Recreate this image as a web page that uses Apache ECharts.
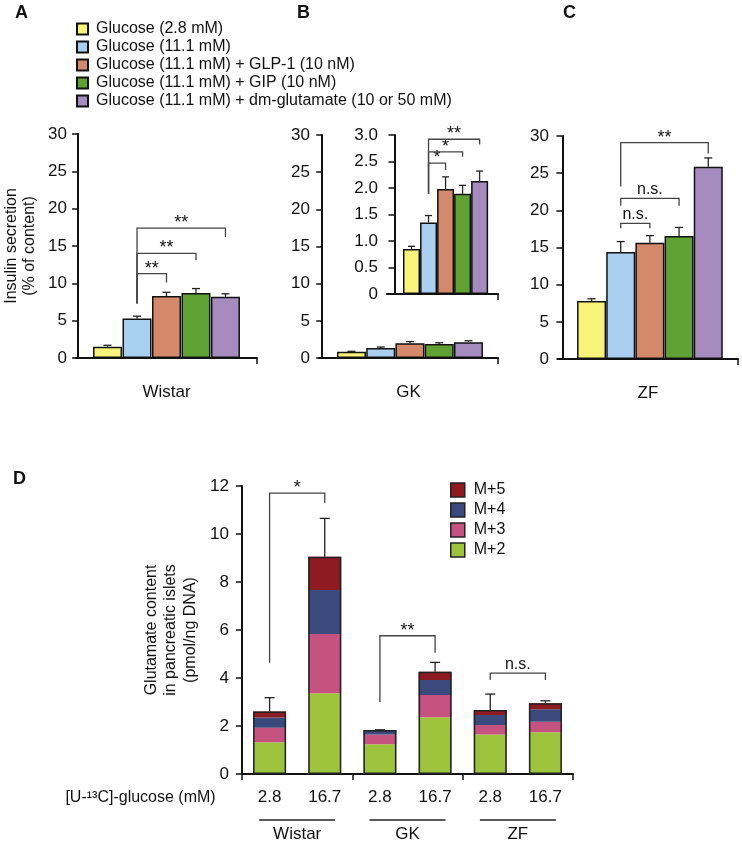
<!DOCTYPE html>
<html>
<head>
<meta charset="utf-8">
<script src="https://cdn.jsdelivr.net/npm/echarts@6/dist/echarts.min.js"></script>
<style>
  html, body { margin: 0; padding: 0; background: #fff; }
  #main { width: 742px; height: 845px; }
</style>
</head>
<body>
<div id="main"></div>
<script>
// panels A-C: insulin secretion (% of content)
const conditions = [
  'Glucose (2.8 mM)',
  'Glucose (11.1 mM)',
  'Glucose (11.1 mM) + GLP-1 (10 nM)',
  'Glucose (11.1 mM) + GIP (10 nM)',
  'Glucose (11.1 mM) + dm-glutamate (10 or 50 mM)'
];
const conditionColors = ['#f8f47a', '#a9cff1', '#d4896a', '#5fa132', '#a58bbe'];

const wistarMean = [1.5, 5.3, 8.3, 8.7, 8.2];
const wistarSem = [0.2, 0.3, 0.5, 0.6, 0.4];
const gkMean = [0.85, 1.35, 1.98, 1.89, 2.13];
const gkSem = [0.05, 0.13, 0.23, 0.16, 0.19];
const zfMean = [7.8, 14.4, 15.65, 16.55, 25.85];
const zfSem = [0.3, 1.4, 0.95, 1.15, 1.2];

// brackets: [from bar, to bar, top, left leg end, right leg end]
const wistarBrackets = [[2, 3, 11.3, 7.3, 10.1], [2, 4, 14.0, 7.3, 13.1], [2, 5, 17.4, 7.3, 16.2]];
const wistarMarks = ['**', '**', '**'];
const gkBrackets = [[2, 3, 2.47, 1.89, 2.34], [2, 4, 2.68, 1.89, 2.59], [2, 5, 2.92, 1.89, 2.82]];
const gkMarks = ['*', '*', '**'];
const zfBrackets = [[2, 3, 18.25, 17.6, 17.6], [2, 4, 21.6, 20.6, 20.6], [2, 5, 29.1, 23.2, 27.65]];
const zfMarks = ['n.s.', 'n.s.', '**'];

// panel D: glutamate content (pmol/ng DNA)
const strains = ['Wistar', 'GK', 'ZF'];
const doses = ['2.8', '16.7'];
const isotopologues = ['M+2', 'M+3', 'M+4', 'M+5'];
const isoColors = ['#9dc43c', '#c5527f', '#3b4a7c', '#8e1b22'];
const m2 = [1.32, 3.36, 1.24, 2.36, 1.65, 1.74];
const m3 = [0.61, 2.47, 0.41, 0.93, 0.39, 0.44];
const m4 = [0.42, 1.84, 0.15, 0.63, 0.42, 0.52];
const m5 = [0.25, 1.38, 0.03, 0.34, 0.21, 0.25];
const glutSem = [0.58, 1.6, 0.01, 0.39, 0.66, 0.1];
const glutBrackets = [[0, 1, 11.7, 4.64, 11.3], [2, 3, 5.76, 3.0, 5.05], [4, 5, 4.2, 3.92, 3.92]];
const glutMarks = ['*', '**', 'n.s.'];

const FONT = "'Liberation Sans', Arial, sans-serif";
const INK = '#111';

const chart = echarts.init(document.getElementById('main'));

const categories = [];
strains.forEach(s => doses.forEach(d => categories.push(s + ' ' + d)));
const totals = m2.map((v, i) => v + m3[i] + m4[i] + m5[i]);

function xVal(gridIndex, min, max, name) {
  return {
    type: 'value', gridIndex, min, max,
    axisLine: { show: true, onZero: false, lineStyle: { color: INK, width: 2 } },
    axisTick: { show: true, customValues: [max], length: 6, lineStyle: { color: INK, width: 1.5 } },
    axisLabel: { show: false },
    splitLine: { show: false },
    name: name || '', nameLocation: 'middle', nameGap: 26,
    nameTextStyle: { fontSize: 17, color: INK }
  };
}

function yVal(gridIndex, max, interval, opts) {
  opts = opts || {};
  return {
    type: 'value', gridIndex, min: 0, max, interval,
    axisLine: { show: true, lineStyle: { color: INK, width: 2 } },
    axisTick: { show: true, length: 6, lineStyle: { color: INK, width: 1.5 } },
    axisLabel: { fontSize: 17, color: INK, margin: opts.margin || 9, formatter: opts.fmt },
    splitLine: { show: false },
    name: opts.name || '', nameLocation: 'middle', nameRotate: 90, nameGap: opts.nameGap || 30,
    nameTextStyle: { fontSize: 16, color: INK, lineHeight: opts.lineHeight || 18 }
  };
}

function barSeries(axis, means, width) {
  return means.map((v, i) => ({
    type: 'bar', name: conditions[i], xAxisIndex: axis, yAxisIndex: axis,
    data: [[i + 1, v]], barWidth: width, barGap: '-100%',
    itemStyle: { color: conditionColors[i], borderColor: INK, borderWidth: 1.5 },
    z: 2
  }));
}

function errorSeries(xAxis, yAxis, data, cap) {
  return {
    type: 'custom', xAxisIndex: xAxis, yAxisIndex: yAxis, data, z: 4, silent: true,
    renderItem(params, api) {
      const x = api.value(0), m = api.value(1), e = api.value(2);
      const p0 = api.coord([x, m]), p1 = api.coord([x, m + e]);
      const st = { stroke: '#222', lineWidth: 1.3 };
      return { type: 'group', children: [
        { type: 'line', shape: { x1: p0[0], y1: p0[1], x2: p1[0], y2: p1[1] }, style: st },
        { type: 'line', shape: { x1: p1[0] - cap / 2, y1: p1[1], x2: p1[0] + cap / 2, y2: p1[1] }, style: st }
      ] };
    }
  };
}

function bracketSeries(xAxis, yAxis, data, marks) {
  return {
    type: 'custom', xAxisIndex: xAxis, yAxisIndex: yAxis, data, z: 5, silent: true, clip: false,
    renderItem(params, api) {
      const x1 = api.value(0), x2 = api.value(1), yt = api.value(2);
      const a = api.coord([x1, api.value(3)]), b = api.coord([x1, yt]);
      const c = api.coord([x2, yt]), d = api.coord([x2, api.value(4)]);
      const mark = marks[params.dataIndex];
      const star = mark.indexOf('*') >= 0;
      return { type: 'group', children: [
        { type: 'polyline', shape: { points: [a, b, c, d] },
          style: { stroke: '#444', lineWidth: 1.3, fill: null } },
        { type: 'text', x: (b[0] + c[0]) / 2, y: star ? b[1] - 5 : b[1] - 1,
          style: { text: mark, fontSize: star ? 18 : 16, fontFamily: FONT, fill: INK,
                   align: 'center', verticalAlign: star ? 'middle' : 'bottom' } }
      ] };
    }
  };
}

const withIndex = (means, sems) => means.map((v, i) => [i + 1, v, sems[i]]);

const series = [].concat(
  barSeries(0, wistarMean, 29),
  barSeries(1, gkMean, 29),
  barSeries(2, gkMean, 17),
  barSeries(3, zfMean, 29),
  [
    errorSeries(0, 0, withIndex(wistarMean, wistarSem), 8),
    errorSeries(1, 1, withIndex(gkMean, gkSem), 8),
    errorSeries(2, 2, withIndex(gkMean, gkSem), 7),
    errorSeries(3, 3, withIndex(zfMean, zfSem), 8),
    bracketSeries(0, 0, wistarBrackets, wistarMarks),
    bracketSeries(2, 2, gkBrackets, gkMarks),
    bracketSeries(3, 3, zfBrackets, zfMarks)
  ],
  [m2, m3, m4, m5].map((arr, k) => ({
    type: 'bar', name: isotopologues[k], stack: 'glu', xAxisIndex: 4, yAxisIndex: 4,
    data: arr, barWidth: 33, itemStyle: { color: isoColors[k] }, z: 2
  })),
  [
    { type: 'bar', name: 'total', xAxisIndex: 4, yAxisIndex: 4, data: totals, barWidth: 33,
      barGap: '-100%', silent: true, z: 3,
      itemStyle: { color: 'rgba(0,0,0,0)', borderColor: '#222', borderWidth: 1.5 } },
    errorSeries(4, 4, totals.map((v, i) => [i, v, glutSem[i]]), 10),
    bracketSeries(4, 4, glutBrackets, glutMarks),
    {
      // short lines over the strain names
      type: 'custom', xAxisIndex: 4, yAxisIndex: 4, silent: true, clip: false,
      data: strains.map((s, i) => [2 * i, 2 * i + 1]),
      renderItem(params, api) {
        const p0 = api.coord([api.value(0), 0]), p1 = api.coord([api.value(1), 0]);
        const mid = (p0[0] + p1[0]) / 2;
        return { type: 'line', shape: { x1: mid - 38, y1: p0[1] + 46, x2: mid + 38, y2: p0[1] + 46 },
                 style: { stroke: '#222', lineWidth: 1.3 } };
      }
    }
  ]
);

const option = {
  animation: false,
  textStyle: { fontFamily: FONT, color: INK },
  title: [
    { text: 'A', left: 10, top: -1 },
    { text: 'B', left: 292, top: -1 },
    { text: 'C', left: 558, top: -1 },
    { text: 'D', left: 8, top: 465 }
  ].map(t => Object.assign(t, { textStyle: { fontSize: 18, fontWeight: 'bold', color: INK, fontFamily: FONT } })),
  legend: [
    {
      data: conditions, orient: 'vertical', left: 76, top: 20, padding: 0,
      itemWidth: 11, itemHeight: 11, itemGap: 0, icon: 'rect',
      textStyle: { fontSize: 16, color: INK, lineHeight: 18, padding: [0, 0, 0, 3] },
      selectedMode: false
    },
    {
      data: ['M+5', 'M+4', 'M+3', 'M+2'], orient: 'vertical', left: 450, top: 480, padding: 0,
      itemWidth: 14, itemHeight: 14, itemGap: 0, icon: 'rect',
      itemStyle: { borderColor: '#222', borderWidth: 1.5 },
      textStyle: { fontSize: 16, color: INK, lineHeight: 20, padding: [0, 0, 0, 4] },
      selectedMode: false
    }
  ],
  grid: [
    { left: 76, top: 134, width: 181, height: 224 },
    { left: 319, top: 135, width: 179, height: 223 },
    { left: 387, top: 135, width: 111, height: 159 },
    { left: 558, top: 136, width: 180, height: 223 },
    { left: 242, top: 486, width: 331, height: 288 }
  ],
  xAxis: [
    xVal(0, -0.07, 6.07, strains[0]),
    xVal(1, -0.11, 6.01, strains[1]),
    xVal(2, -0.44, 6.08),
    xVal(3, -0.15, 6.02, strains[2]),
    {
      type: 'category', gridIndex: 4, data: categories,
      axisLine: { lineStyle: { color: INK, width: 2 } },
      axisTick: { show: true, length: 6, interval: (i) => i === 0 || i === 2 || i === 4,
                  lineStyle: { color: INK, width: 1.5 } },
      axisLabel: { fontSize: 17, color: INK, margin: 15, interval: 0,
                   formatter: (v) => v.split(' ')[1] },
      name: '[U-\u00B9\u00B3C]-glucose (mM)', nameLocation: 'start', nameGap: 15,
      nameTextStyle: { fontSize: 16, color: INK, verticalAlign: 'top', lineHeight: 48 }
    },
    {
      type: 'category', gridIndex: 4, data: strains, position: 'bottom', offset: 44,
      axisLine: { show: false }, axisTick: { show: false },
      axisLabel: { fontSize: 17, color: INK, margin: 8 }
    }
  ],
  yAxis: [
    yVal(0, 30, 5, { name: 'Insulin secretion\n(% of content)', nameGap: 37 }),
    yVal(1, 30, 5),
    yVal(2, 3, 0.5, { fmt: (v) => (v === 0 ? '0' : v.toFixed(1)) }),
    yVal(3, 30, 5),
    yVal(4, 12, 2, { name: 'Glutamate content\nin pancreatic islets\n(pmol/ng DNA)', nameGap: 42,
                     lineHeight: 19.5, margin: 13 })
  ],
  series
};

chart.setOption(option);
</script>
</body>
</html>
